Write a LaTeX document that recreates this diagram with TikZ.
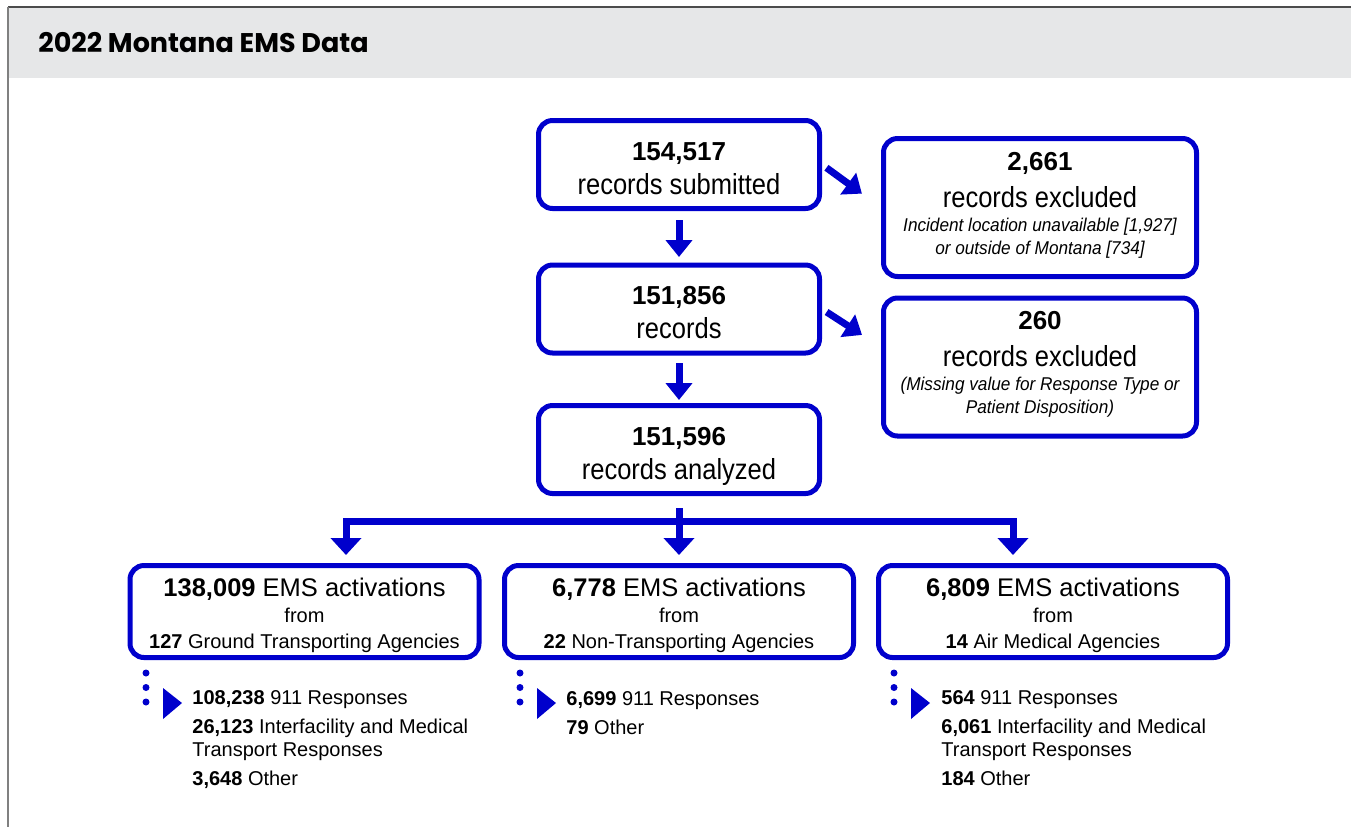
\documentclass[tikz,border=0pt]{standalone}
\usepackage{fontspec}
\setmainfont{Liberation Sans}
\newfontfamily\titlefont{Poppins}
\newfontfamily\narrowfont{Liberation Sans}[FakeStretch=0.88]
\newfontfamily\notefont{Liberation Sans}[FakeStretch=0.93]
\usetikzlibrary{arrows.meta}

\definecolor{emsblue}{RGB}{0,0,204}
\definecolor{headgray}{RGB}{230,231,232}
\definecolor{framegray}{RGB}{128,128,128}

\newcommand{\bignum}[1]{{\fontsize{13}{17}\selectfont\bfseries #1}}
\newcommand{\bigtxt}[1]{{\narrowfont\fontsize{14.5}{17}\selectfont #1}}
\newcommand{\notetxt}[1]{{\notefont\itshape\fontsize{9.25}{11.5}\selectfont #1}}

\tikzset{
  recbox/.style={draw=emsblue, line width=2.5pt, rounded corners=7pt,
    align=center, inner sep=0pt, text depth=0pt},
  flowbox/.style={recbox, minimum width=140.5pt, minimum height=44pt,
    text height=29.5pt, font={\fontsize{10}{17}\selectfont\lineskiplimit-20pt}},
  exclbox/.style={recbox, minimum width=156.5pt, minimum height=69pt,
    text height=46.5pt, font={\fontsize{10}{11.5}\selectfont\lineskiplimit-20pt}},
  agencybox/.style={recbox, minimum width=174.5pt, minimum height=46pt,
    text height=36.5pt, font={\fontsize{10}{13}\selectfont\lineskiplimit-20pt}},
  fatarrow/.style={emsblue, line width=3.5pt, -{Triangle[width=13pt,length=8.5pt]}},
  splitarrow/.style={emsblue, line width=3.5pt, -{Triangle[width=15pt,length=8.5pt]}},
  sublist/.style={anchor=base west, align=left, inner sep=0pt,
    font={\fontsize{10}{11.5}\selectfont\lineskiplimit-20pt}},
}

\begin{document}
\begin{tikzpicture}[x=0.5pt,y=-0.5pt]

\useasboundingbox (0,0) rectangle (1351,827);

%% Header band
\fill[headgray] (9,8) rectangle (1351,78);
\draw[black!70, line width=1pt] (8,7) -- (1351,7);
\draw[framegray, line width=1.2pt] (8,7) -- (8,827);
\node[anchor=base west, inner sep=0pt] (title) at (38,52)
  {\titlefont\bfseries\fontsize{13.5}{16}\selectfont 2022 Montana EMS Data};

%% Main record flow
\node[flowbox] (b1) at (679,164.5) {\bignum{154,517}\\\bigtxt{records submitted}};
\node[flowbox] (b2) at (679,309) {\bignum{151,856}\\\bigtxt{records}};
\node[flowbox] (b3) at (679,449.5) {\bignum{151,596}\\\bigtxt{records analyzed}};

%% Exclusions
\node[exclbox] (e1) at (1040,207.5) {\bignum{2,661}\\[7pt]\bigtxt{records excluded}\\[0.5pt]
  \notetxt{Incident location unavailable [1,927]}\\\notetxt{or outside of Montana [734]}};
\node[exclbox] (e2) at (1040,367) {\bignum{260}\\[7pt]\bigtxt{records excluded}\\[0.5pt]
  \notetxt{(Missing value for Response Type or}\\\notetxt{Patient Disposition)}};

\draw[fatarrow, shorten <=4.5pt, shorten >=2.75pt] (b1) -- (b2);
\draw[fatarrow, shorten <=3.75pt, shorten >=1.5pt] (b2) -- (b3);
\draw[fatarrow, shorten <=2.75pt, shorten >=11.8pt] (b1.east) -- (e1.west);
\draw[fatarrow, shorten <=2.75pt, shorten >=11.3pt] (b2.east) -- ([yshift=9.9pt]e2.west);

%% Agencies
\node[agencybox] (c1) at (304.5,611.5) {{\fontsize{12.75}{13}\selectfont\textbf{138,009} EMS activations}\\
  from\\\textbf{127} Ground Transporting Agencies};
\node[agencybox] (c2) at (679,611.5) {{\fontsize{12.75}{13}\selectfont\textbf{6,778} EMS activations}\\
  from\\\textbf{22} Non-Transporting Agencies};
\node[agencybox] (c3) at (1053,611.5) {{\fontsize{12.75}{13}\selectfont\textbf{6,809} EMS activations}\\
  from\\\textbf{14} Air Medical Agencies};

\coordinate (split) at (679,521);
\draw[splitarrow, shorten <=6pt, shorten >=4pt] (b3) -- (c2);
\draw[splitarrow, shorten >=4pt] (split) -| ([xshift=20.75pt]c1.north);
\draw[splitarrow, shorten >=4pt] (split) -| ([xshift=-20pt]c3.north);

%% Breakdown lists
\foreach \dx in {0,374,748} {
  \foreach \dy in {673,687.5,702}
    \fill[emsblue] (146+\dx,\dy) circle (1.75pt);
  \fill[emsblue] (163+\dx,688) -- (182+\dx,703) -- (163+\dx,719) -- cycle;
}
\node[sublist] (l1) at (192,785) {\textbf{108,238} 911 Responses\\[3pt]
  \textbf{26,123} Interfacility and Medical\\Transport Responses\\[3pt]
  \textbf{3,648} Other};
\node[sublist] (l2) at (566,734) {\textbf{6,699} 911 Responses\\[3pt]
  \textbf{79} Other};
\node[sublist] (l3) at (941,785) {\textbf{564} 911 Responses\\[3pt]
  \textbf{6,061} Interfacility and Medical\\Transport Responses\\[3pt]
  \textbf{184} Other};

\end{tikzpicture}
\end{document}
